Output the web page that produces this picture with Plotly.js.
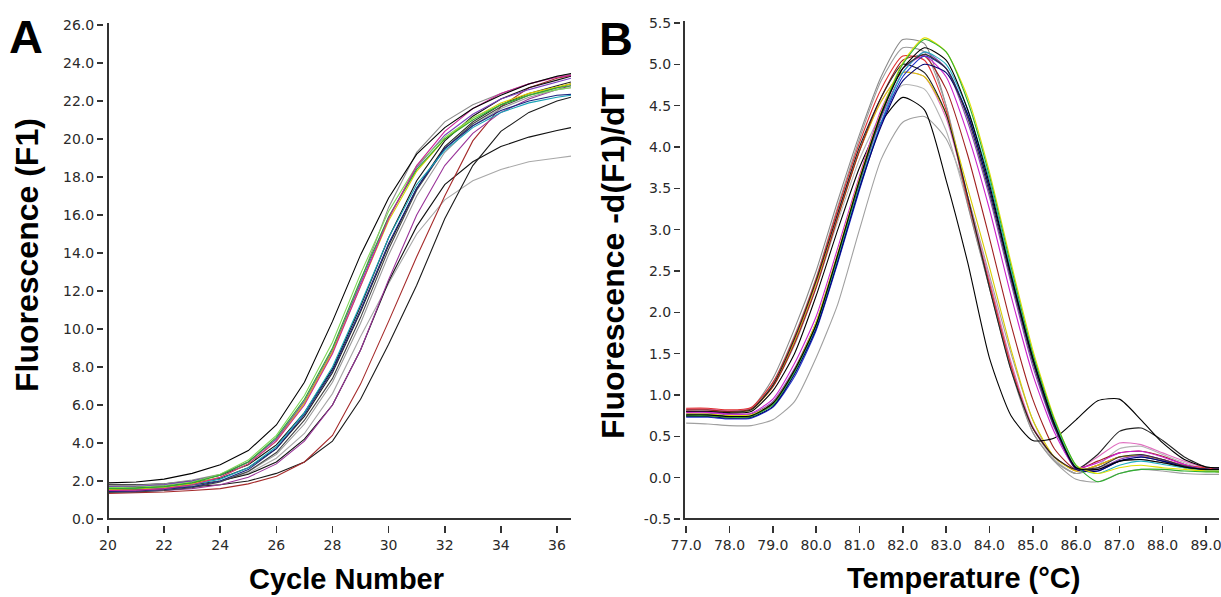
<!DOCTYPE html>
<html>
<head>
<meta charset="utf-8">
<script src="https://cdn.plot.ly/plotly-3.0.1.min.js"></script>
<style>
html,body{margin:0;padding:0;background:#fff;}
#chart{width:1221px;height:597px;}
</style>
</head>
<body>
<div id="chart"></div>
<script>
// ---------- Panel A: amplification curves (Fluorescence F1 vs cycle) ----------
const cycles = [20,21,22,23,24,25,26,27,28,29,30,31,32,33,34,35,36,36.5];

const ampBlackEarly = [1.90,1.95,2.10,2.40,2.85,3.60,4.95,7.20,10.4,13.9,16.9,19.2,20.6,21.6,22.3,22.9,23.3,23.45];
const ampGreen      = [1.60,1.62,1.70,1.90,2.30,3.00,4.30,6.30,9.00,12.6,15.9,18.4,20.0,21.0,21.8,22.3,22.7,22.8];
const ampYellow     = [1.55,1.58,1.66,1.85,2.20,2.90,4.10,6.10,8.80,12.3,15.7,18.3,20.0,21.1,21.9,22.4,22.75,22.9];
const ampMagenta    = [1.50,1.52,1.60,1.80,2.20,2.90,4.10,6.00,8.70,12.2,15.8,18.6,20.4,21.6,22.4,22.9,23.25,23.35];
const ampPurple     = [1.70,1.72,1.80,2.00,2.30,3.00,4.20,6.20,8.90,12.4,15.9,18.5,20.2,21.3,22.1,22.6,23.0,23.2];
const ampCyan       = [1.60,1.60,1.65,1.80,2.10,2.70,3.80,5.60,8.00,11.3,14.8,17.6,19.4,20.6,21.4,21.9,22.2,22.3];
const ampNavy       = [1.45,1.47,1.55,1.70,2.00,2.60,3.70,5.50,7.80,11.0,14.5,17.4,19.5,20.7,21.5,22.0,22.3,22.35];
const ampGrayA      = [1.75,1.78,1.85,2.05,2.35,3.00,4.20,6.10,8.80,12.5,16.4,19.3,20.9,21.8,22.4,22.9,23.3,23.4];
const ampBlackB     = [1.80,1.80,1.85,2.00,2.30,2.85,3.90,5.60,7.90,11.2,14.8,17.8,19.9,21.2,22.1,22.7,23.1,23.3];
const ampBlackC     = [1.40,1.42,1.50,1.65,1.95,2.50,3.50,5.20,7.40,10.6,14.2,17.3,19.5,20.8,21.7,22.3,22.7,22.9];
const ampGrayB      = [1.50,1.50,1.55,1.70,2.00,2.50,3.40,5.00,7.20,10.3,13.9,17.0,19.3,20.7,21.6,22.2,22.6,22.7];
const ampRed        = [1.35,1.37,1.42,1.50,1.60,1.85,2.25,3.00,4.40,7.10,10.4,13.8,17.0,19.9,21.7,22.7,23.2,23.35];
const ampBlackLate  = [1.55,1.55,1.60,1.70,1.80,2.00,2.40,3.00,4.10,6.30,9.20,12.3,15.8,18.6,20.4,21.4,22.0,22.2];
const ampBlackLow   = [1.65,1.65,1.70,1.80,2.00,2.35,3.00,4.20,6.00,8.90,12.5,15.4,17.6,18.8,19.6,20.1,20.45,20.6];
const ampGrayLow    = [1.60,1.60,1.65,1.75,2.00,2.40,3.20,4.50,6.60,9.60,12.4,15.0,16.8,17.8,18.4,18.8,19.0,19.1];
const ampViolet     = [1.45,1.45,1.50,1.60,1.80,2.20,2.90,4.10,6.00,8.90,12.6,16.0,18.6,20.3,21.4,22.1,22.6,22.8];
const ampLime       = [1.65,1.68,1.75,1.95,2.35,3.10,4.40,6.50,9.30,12.9,16.2,18.6,20.1,21.1,21.8,22.3,22.6,22.7];
const ampBlackD     = [1.70,1.70,1.75,1.90,2.15,2.70,3.70,5.40,7.70,10.9,14.4,17.4,19.6,20.9,21.8,22.4,22.8,23.0];

// ---------- Panel B: melt curves (-d(F1)/dT vs temperature) ----------
const tempsC = [77.0,77.5,78.0,78.5,79.0,79.5,80.0,80.5,81.0,81.5,82.0,82.5,83.0,83.5,84.0,84.5,85.0,85.5,86.0,86.5,87.0,87.5,88.0,88.5,89.0,89.3];

const meltGray       = [0.82,0.82,0.80,0.84,1.20,1.80,2.50,3.35,4.15,4.85,5.30,5.25,4.50,3.30,2.30,1.30,0.55,0.20,0.05,0.12,0.20,0.22,0.18,0.12,0.08,0.07];
const meltRed        = [0.84,0.84,0.82,0.85,1.15,1.70,2.40,3.25,4.05,4.70,5.10,5.05,4.45,3.35,2.35,1.35,0.60,0.25,0.08,0.15,0.25,0.27,0.22,0.15,0.12,0.10];
const meltPink       = [0.83,0.83,0.81,0.84,1.10,1.65,2.35,3.20,3.95,4.55,4.90,4.85,4.35,3.40,2.40,1.40,0.62,0.25,0.10,0.25,0.42,0.40,0.30,0.20,0.12,0.10];
const meltLightGray  = [0.80,0.80,0.78,0.82,1.10,1.60,2.30,3.10,3.85,4.40,4.75,4.70,4.20,3.30,2.30,1.35,0.60,0.22,0.05,0.15,0.35,0.38,0.28,0.18,0.10,0.08];
const meltYellow     = [0.80,0.80,0.79,0.82,1.10,1.65,2.35,3.15,3.95,4.55,4.90,4.85,4.40,3.50,2.55,1.55,0.70,0.25,0.08,0.15,0.25,0.27,0.20,0.12,0.08,0.07];
const meltSilver     = [0.81,0.81,0.80,0.83,1.15,1.72,2.42,3.28,4.10,4.80,5.20,5.15,4.50,3.40,2.35,1.35,0.55,0.20,0.05,0.15,0.25,0.25,0.20,0.13,0.09,0.08];
const meltBlackBump  = [0.80,0.80,0.79,0.82,1.12,1.68,2.38,3.20,4.00,4.60,5.00,4.90,4.40,3.40,2.30,1.30,0.60,0.25,0.10,0.28,0.56,0.60,0.45,0.25,0.13,0.12];
const meltBlackEarly = [0.80,0.80,0.78,0.80,1.05,1.50,2.20,3.00,3.75,4.30,4.60,4.45,3.60,2.60,1.45,0.75,0.45,0.48,0.70,0.93,0.95,0.70,0.42,0.22,0.13,0.12];
const meltGrayLow    = [0.66,0.65,0.63,0.63,0.70,0.92,1.45,2.10,3.00,3.85,4.30,4.37,4.10,3.40,2.45,1.50,0.70,0.20,-0.02,-0.05,0.05,0.10,0.08,0.05,0.04,0.04];
const meltBlack      = [0.76,0.76,0.74,0.75,0.90,1.30,1.85,2.70,3.60,4.40,4.95,5.20,5.05,4.45,3.55,2.45,1.45,0.65,0.12,0.10,0.20,0.22,0.18,0.13,0.10,0.10];
const meltNavy       = [0.74,0.74,0.72,0.73,0.86,1.25,1.80,2.62,3.50,4.25,4.80,5.00,4.90,4.40,3.50,2.45,1.45,0.65,0.10,0.08,0.20,0.25,0.20,0.13,0.10,0.10];
const meltGreen      = [0.75,0.75,0.73,0.74,0.88,1.28,1.85,2.68,3.58,4.40,5.00,5.30,5.15,4.55,3.65,2.55,1.50,0.70,0.15,-0.05,0.05,0.10,0.10,0.08,0.07,0.07];
const meltYellowB    = [0.77,0.77,0.75,0.76,0.90,1.30,1.88,2.72,3.62,4.42,5.02,5.32,5.15,4.60,3.70,2.60,1.55,0.72,0.15,0.05,0.12,0.15,0.12,0.10,0.08,0.08];
const meltPurple     = [0.78,0.78,0.76,0.77,0.92,1.32,1.88,2.70,3.55,4.35,4.90,5.15,4.95,4.30,3.40,2.35,1.35,0.60,0.10,0.10,0.22,0.27,0.22,0.14,0.10,0.10];
const meltMagenta    = [0.79,0.79,0.77,0.78,0.95,1.38,1.95,2.78,3.65,4.45,4.95,5.10,4.85,4.15,3.25,2.20,1.25,0.55,0.12,0.18,0.30,0.32,0.25,0.16,0.10,0.10];
const meltCyan       = [0.76,0.76,0.74,0.75,0.88,1.27,1.82,2.65,3.52,4.30,4.90,5.15,5.00,4.45,3.60,2.50,1.50,0.68,0.13,0.05,0.15,0.20,0.16,0.12,0.09,0.09];
const meltBlue       = [0.73,0.73,0.71,0.72,0.85,1.22,1.78,2.60,3.48,4.28,4.85,5.10,4.95,4.38,3.50,2.42,1.42,0.62,0.12,0.08,0.20,0.25,0.20,0.14,0.10,0.10];
const meltDarkRed    = [0.82,0.82,0.80,0.83,1.10,1.62,2.30,3.15,3.95,4.60,5.05,5.10,4.70,3.90,2.90,1.85,0.95,0.35,0.10,0.20,0.30,0.32,0.26,0.16,0.10,0.10];
const meltBlackB     = [0.75,0.75,0.73,0.74,0.90,1.30,1.86,2.70,3.58,4.38,4.95,5.12,4.95,4.35,3.45,2.40,1.40,0.62,0.12,0.12,0.25,0.28,0.22,0.14,0.10,0.10];

// tick values
const cycleTicks = [20,22,24,26,28,30,32,34,36];
const fluorTicks = [0,2,4,6,8,10,12,14,16,18,20,22,24,26];
const tempTicks  = [77,78,79,80,81,82,83,84,85,86,87,88,89];
const derivTicks = [-0.5,0,0.5,1,1.5,2,2.5,3,3.5,4,4.5,5,5.5];

const ampSeries = [
  [ampGrayLow,'#a8a8a8'],[ampBlackLow,'#111111'],[ampBlackLate,'#1a1a1a'],[ampRed,'#a52a2a'],
  [ampViolet,'#993399'],[ampGrayB,'#9a9a9a'],[ampBlackC,'#444444'],[ampBlackD,'#222222'],
  [ampBlackB,'#111111'],[ampGrayA,'#8c8c8c'],[ampNavy,'#1a237e'],[ampCyan,'#17a2b8'],
  [ampPurple,'#7b3fbf'],[ampYellow,'#d8d000'],[ampLime,'#7ed957'],[ampGreen,'#2eaa2e'],
  [ampMagenta,'#cc2299'],[ampBlackEarly,'#000000']
];
const meltSeries = [
  [meltGrayLow,'#a0a0a0'],[meltLightGray,'#b4b4b4'],[meltGray,'#8a8a8a'],[meltPink,'#e070c0'],
  [meltSilver,'#9c9c9c'],[meltRed,'#e03030'],[meltYellow,'#d8cc00'],[meltDarkRed,'#a02020'],
  [meltBlackBump,'#222222'],[meltBlackEarly,'#000000'],[meltPurple,'#8844bb'],[meltMagenta,'#cc22cc'],
  [meltCyan,'#20b0c0'],[meltBlue,'#2233cc'],[meltNavy,'#000070'],[meltBlackB,'#333333'],
  [meltYellowB,'#e0e000'],[meltGreen,'#30b030'],[meltBlack,'#000000']
];

const traces = [];
ampSeries.forEach(([ys,c]) => traces.push({
  type:'scatter', mode:'lines', x:cycles, y:ys, xaxis:'x', yaxis:'y',
  line:{color:c, width:1.1}, hoverinfo:'skip', showlegend:false
}));
meltSeries.forEach(([ys,c]) => traces.push({
  type:'scatter', mode:'lines', x:tempsC, y:ys, xaxis:'x2', yaxis:'y2',
  line:{color:c, width:1.1, shape:'spline', smoothing:0.6}, hoverinfo:'skip', showlegend:false
}));

const W = 1221, H = 597;
const px = v => v / W;
const py = v => 1 - v / H;
const tickFont = {family:'DejaVu Sans, Verdana, sans-serif', size:14, color:'#2a2a2a'};
const ax = {showline:false, showgrid:false, zeroline:false, ticks:'outside', tickcolor:'#333333',
            tickwidth:1.6, tickfont:tickFont, fixedrange:true, anchor:'free', tickmode:'array',
            ticklabeloverflow:'allow'};

const titleFont = {family:'Liberation Sans, Arial, sans-serif', size:29, color:'#000'};
const yTitleFont = {family:'Liberation Sans, Arial, sans-serif', size:32, color:'#000'};
const labelFont = {family:'Liberation Sans, Arial, sans-serif', size:47, color:'#000'};
const lineStyle = {color:'#333333', width:2};

const layout = {
  width:W, height:H, margin:{l:0,r:0,t:0,b:0},
  paper_bgcolor:'#ffffff', plot_bgcolor:'#ffffff', showlegend:false,
  xaxis: Object.assign({}, ax, {domain:[px(108), px(571)], range:[20,36.5], position:py(525), side:'bottom',
          tickvals:cycleTicks, ticktext:cycleTicks.map(String), ticklen:7}),
  yaxis: Object.assign({}, ax, {domain:[py(519), py(25)], range:[0,26], position:px(103), side:'left',
          tickvals:fluorTicks, ticktext:fluorTicks.map(v=>v.toFixed(1)), ticklen:6}),
  xaxis2: Object.assign({}, ax, {domain:[px(684), px(1219)], range:[76.95,89.3], position:py(525), side:'bottom',
          tickvals:tempTicks, ticktext:tempTicks.map(v=>v.toFixed(1)), ticklen:7}),
  yaxis2: Object.assign({}, ax, {domain:[py(519), py(23)], range:[-0.5,5.5], position:px(680), side:'left',
          tickvals:derivTicks, ticktext:derivTicks.map(v=>v.toFixed(1)), ticklen:6}),
  shapes:[
    {type:'line', xref:'paper', yref:'paper', x0:px(107), x1:px(571), y0:py(519), y1:py(519), line:lineStyle},
    {type:'line', xref:'paper', yref:'paper', x0:px(108), x1:px(108), y0:py(520), y1:py(23), line:lineStyle},
    {type:'line', xref:'paper', yref:'paper', x0:px(683), x1:px(1219), y0:py(519), y1:py(519), line:lineStyle},
    {type:'line', xref:'paper', yref:'paper', x0:px(684), x1:px(684), y0:py(520), y1:py(21), line:lineStyle}
  ],
  annotations:[
    {text:'<b>A</b>', x:px(26), y:py(36), xref:'paper', yref:'paper', showarrow:false, font:labelFont, xanchor:'center', yanchor:'middle'},
    {text:'<b>B</b>', x:px(616), y:py(39), xref:'paper', yref:'paper', showarrow:false, font:labelFont, xanchor:'center', yanchor:'middle'},
    {text:'<b>Cycle Number</b>', x:px(346), y:py(579), xref:'paper', yref:'paper', showarrow:false, font:titleFont, xanchor:'center', yanchor:'middle'},
    {text:'<b>Temperature (°C)</b>', x:px(963), y:py(578), xref:'paper', yref:'paper', showarrow:false, font:titleFont, xanchor:'center', yanchor:'middle'},
    {text:'<b>Fluorescence (F1)</b>', x:px(27), y:py(255), xref:'paper', yref:'paper', showarrow:false, font:yTitleFont, textangle:-90, xanchor:'center', yanchor:'middle'},
    {text:'<b>Fluorescence -d(F1)/dT</b>', x:px(613), y:py(263), xref:'paper', yref:'paper', showarrow:false, font:yTitleFont, textangle:-90, xanchor:'center', yanchor:'middle'}
  ]
};

Plotly.newPlot('chart', traces, layout, {displayModeBar:false, staticPlot:true});
</script>
</body>
</html>
